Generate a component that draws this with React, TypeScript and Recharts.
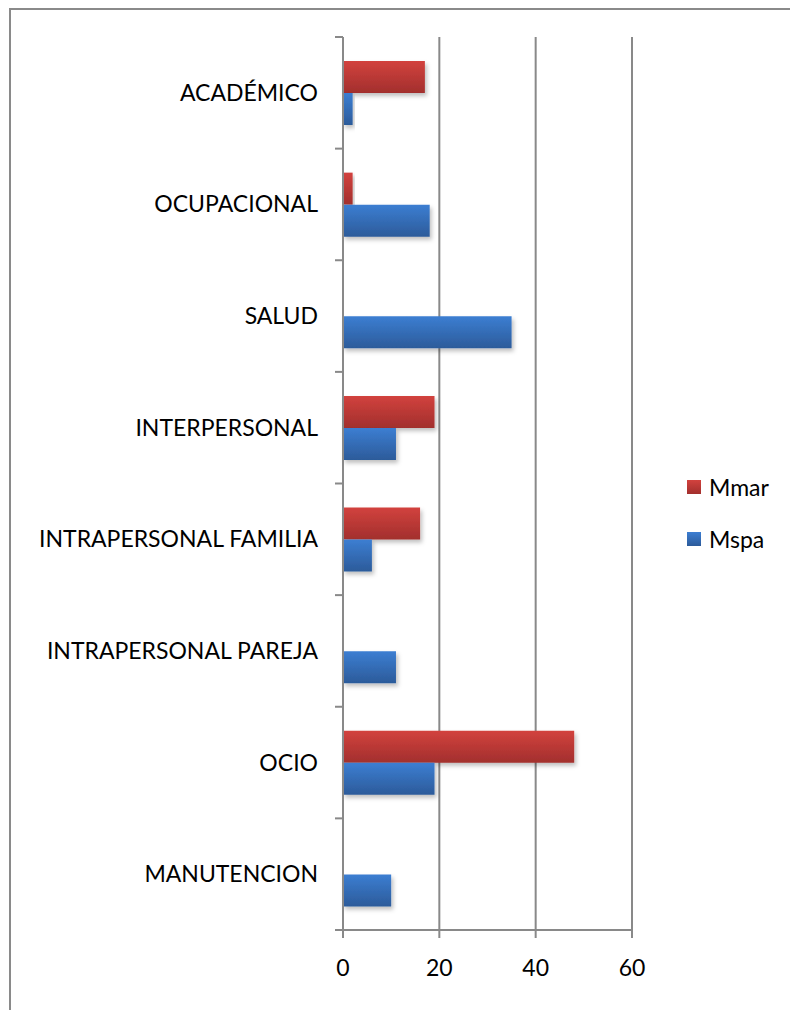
import React from 'react'
import {
  BarChart,
  Bar,
  XAxis,
  YAxis,
  CartesianGrid,
  Legend
} from 'recharts'

const categories = [
  'ACADÉMICO',
  'OCUPACIONAL',
  'SALUD',
  'INTERPERSONAL',
  'INTRAPERSONAL FAMILIA',
  'INTRAPERSONAL PAREJA',
  'OCIO',
  'MANUTENCION'
]
const mmar = [17, 2, 0, 19, 16, 0, 48, 0]
const mspa = [2, 18, 35, 11, 6, 11, 19, 10]
const xTicks = [0, 20, 40, 60]

const data = categories.map((name, i) => ({ name, Mmar: mmar[i], Mspa: mspa[i] }))

const FONT = 'Lato, "Open Sans", sans-serif'
const GRID = '#898989'

// label in the middle of the band, tick marks on the band edges
const CategoryTick = (props: any) => {
  const { x, y, payload, index } = props
  const axisX = x + 25
  const half = payload.offset || 0
  return (
    <g>
      <text x={x} y={y - 1} textAnchor="end" dominantBaseline="central" fontSize={23} fill="#000" fontFamily={FONT}>
        {payload.value}
      </text>
      <line x1={axisX - 8} x2={axisX} y1={y - half} y2={y - half} stroke={GRID} strokeWidth={2} />
      {index === categories.length - 1 && (
        <line x1={axisX - 8} x2={axisX} y1={y + half} y2={y + half} stroke={GRID} strokeWidth={2} />
      )}
    </g>
  )
}

const LegendBox = () => (
  <div style={{ fontFamily: FONT, fontSize: 23, color: '#000' }}>
    {['Mmar', 'Mspa'].map((name) => (
      <div key={name} style={{ display: 'flex', alignItems: 'center', height: 26, marginBottom: 26 }}>
        <svg width={14} height={14} style={{ marginRight: 8 }}>
          <defs>
            <linearGradient id={'lg' + name} x1="0" y1="0" x2="0" y2="1">
              <stop offset="0%" stopColor={name === 'Mmar' ? '#D2423E' : '#3C7ED2'} />
              <stop offset="100%" stopColor={name === 'Mmar' ? '#A22F2D' : '#2C5B9A'} />
            </linearGradient>
          </defs>
          <rect width={14} height={14} fill={'url(#lg' + name + ')'} />
        </svg>
        <span>{name}</span>
      </div>
    ))}
  </div>
)

const App: React.FC = () => {
  return (
    <div style={{ position: 'absolute', left: 0, top: 0, width: 790, height: 1010, background: '#fff' }}>
      <div
        style={{
          position: 'absolute',
          left: 9,
          top: 8,
          width: 781,
          height: 1002,
          borderLeft: '2px solid #8a8a8a',
          borderTop: '2px solid #8a8a8a'
        }}
      />
      <BarChart
        width={790}
        height={1010}
        data={data}
        layout="vertical"
        margin={{ top: 37, right: 158, bottom: 30, left: 0 }}
        barCategoryGap={24}
        barGap={0}
        style={{ position: 'absolute', left: 0, top: 0 }}
      >
        <defs>
          <linearGradient id="gradRed" x1="0" y1="0" x2="0" y2="1">
            <stop offset="0%" stopColor="#D2423E" />
            <stop offset="100%" stopColor="#A22F2D" />
          </linearGradient>
          <linearGradient id="gradBlue" x1="0" y1="0" x2="0" y2="1">
            <stop offset="0%" stopColor="#3C7ED2" />
            <stop offset="100%" stopColor="#2C5B9A" />
          </linearGradient>
          <filter id="barShadow" x="-10%" y="-20%" width="130%" height="160%">
            <feDropShadow dx="2" dy="3" stdDeviation="2" floodColor="#000" floodOpacity="0.25" />
          </filter>
        </defs>
        <CartesianGrid horizontal={false} vertical={true} stroke={GRID} strokeWidth={2} />
        <XAxis
          type="number"
          domain={[0, 60]}
          ticks={xTicks}
          height={50}
          tick={{ fontSize: 23, fill: '#000', fontFamily: FONT }}
          tickSize={8}
          tickMargin={22}
          axisLine={{ stroke: GRID, strokeWidth: 2 }}
          tickLine={{ stroke: GRID, strokeWidth: 2 }}
        />
        <YAxis
          type="category"
          dataKey="name"
          width={343}
          tick={<CategoryTick />}
          tickSize={8}
          tickMargin={17}
          tickLine={false}
          axisLine={{ stroke: GRID, strokeWidth: 2 }}
          interval={0}
        />
        <Legend
          layout="vertical"
          align="center"
          verticalAlign="middle"
          content={<LegendBox />}
          wrapperStyle={{ left: 687, top: 474, width: 100 }}
        />
        <Bar dataKey="Mmar" fill="url(#gradRed)" filter="url(#barShadow)" isAnimationActive={false} />
        <Bar dataKey="Mspa" fill="url(#gradBlue)" filter="url(#barShadow)" isAnimationActive={false} />
      </BarChart>
    </div>
  )
}

export default App
